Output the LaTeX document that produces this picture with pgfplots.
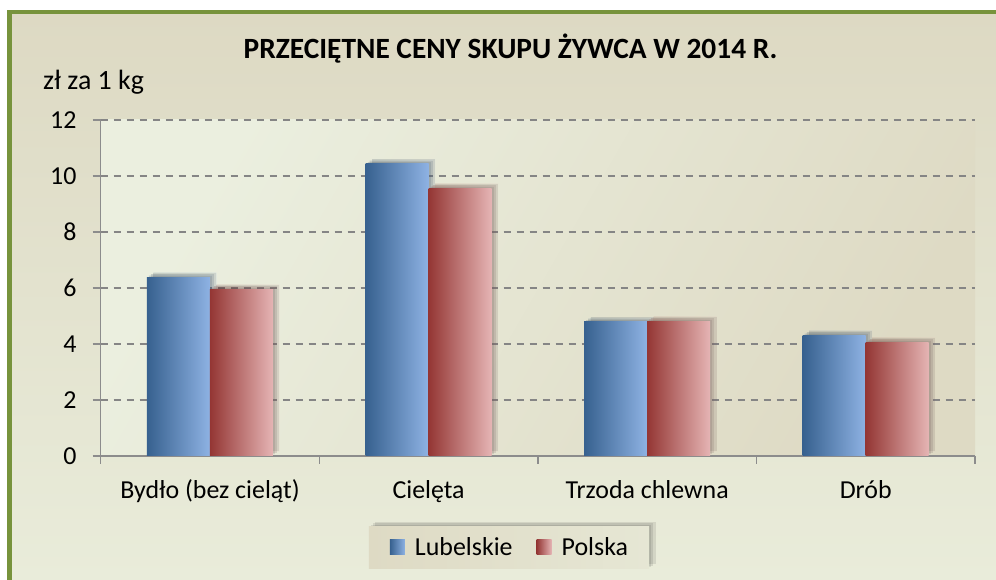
\documentclass[border=0pt]{standalone}
\usepackage{fontspec}
\setmainfont{Carlito}
\usepackage{pgfplots}
\pgfplotsset{compat=1.18}
\definecolor{bgtop}{HTML}{DDD9C3}
\definecolor{bgbot}{HTML}{E9ECDA}
\definecolor{patop}{HTML}{EBEFDF}
\definecolor{pabot}{HTML}{DEDAC4}
\definecolor{bordergreen}{HTML}{77933C}
\definecolor{bluedark}{HTML}{37618F}
\definecolor{bluelight}{HTML}{8EB2E3}
\definecolor{reddark}{HTML}{943634}
\definecolor{redlight}{HTML}{E5B4B4}
\definecolor{axgray}{HTML}{8C8C8C}
\definecolor{gridgray}{HTML}{858585}
\pgfdeclarehorizontalshading{bluesh}{100bp}{color(0bp)=(bluedark); color(25bp)=(bluedark); color(75bp)=(bluelight); color(100bp)=(bluelight)}
\pgfdeclarehorizontalshading{redsh}{100bp}{color(0bp)=(reddark); color(25bp)=(reddark); color(75bp)=(redlight); color(100bp)=(redlight)}
\tikzset{softshadow/.style={
  preaction={fill=black,opacity=0.09,transform canvas={xshift=2bp,yshift=1.5bp}},
  preaction={fill=black,opacity=0.09,transform canvas={xshift=4bp,yshift=3bp}},
  preaction={fill=black,opacity=0.09,transform canvas={xshift=6.5bp,yshift=4.5bp}}}}
\pgfplotsset{
  lub/.style={ybar, bar shift=-31.5bp, draw=none, left color=bluedark, right color=bluelight, softshadow, forget plot},
  pol/.style={ybar, bar shift=31.5bp, draw=none, left color=reddark, right color=redlight, softshadow, forget plot},
}
\begin{document}
\begin{tikzpicture}[x=1bp,y=1bp]
\useasboundingbox (0,0) rectangle (996,580);
\fill[white] (0,0) rectangle (996,580);
\shade[top color=bgtop, bottom color=bgbot] (7,0) rectangle (996,568);
\draw[bordergreen, line width=4.5bp] (9.5,0) -- (9.5,568) -- (996,568);
\node[anchor=base, font=\bfseries\fontsize{29.5}{34}\selectfont] at (510.5,521) {PRZECIĘTNE CENY SKUPU ŻYWCA W 2014 R.};
\node[anchor=base west, inner sep=0pt, font=\fontsize{28}{32}\selectfont] at (43,490) {zł za 1 kg};
\begin{axis}[
  at={(100.7bp,124bp)}, anchor=south west, scale only axis,
  width=874.3bp, height=336bp,
  xmin=-0.5, xmax=3.5, ymin=0, ymax=12,
  bar width=63bp,
  axis lines*=left,
  axis line style={axgray, line width=1.5bp},
  ytick={0,2,...,12},
  xtick={-0.5,0.5,1.5,2.5,3.5}, xticklabels={},
  extra x ticks={0,1,2,3},
  extra x tick labels={Bydło (bez cieląt),Cielęta,Trzoda chlewna,Drób},
  extra x tick style={major tick length=0pt, xticklabel style={anchor=base, yshift=-43bp}},
  tick align=outside, major tick length=8bp,
  tick style={axgray, line width=1.5bp},
  ymajorgrids, grid style={gridgray, dash pattern=on 7bp off 6bp, line width=1.8bp},
  tick label style={font=\fontsize{26}{30}\selectfont, text=black},
  /pgf/number format/assume math mode=true,
  yticklabel style={inner sep=0pt, xshift=-16bp},
  axis background/.style={shade, top color=patop, bottom color=pabot, shading angle=60},
  legend columns=2,
  legend style={at={(0.467,-0.272)}, anchor=center, draw=none,
    left color=pabot, right color=patop!60!pabot, softshadow,
    inner xsep=21bp, inner ysep=11.5bp, font=\fontsize{26}{30}\selectfont,
    nodes={inner sep=0pt},
    /tikz/every odd column/.append style={column sep=10bp},
    /tikz/every even column/.append style={column sep=24bp}},
  legend cell align=left,
]
% Lubelskie
\addplot[lub] coordinates {(0,6.39)};
\addplot[lub] coordinates {(1,10.43)};
\addplot[lub] coordinates {(2,4.79)};
\addplot[lub] coordinates {(3,4.32)};
% Polska
\addplot[pol] coordinates {(0,5.96)};
\addplot[pol] coordinates {(1,9.57)};
\addplot[pol] coordinates {(2,4.82)};
\addplot[pol] coordinates {(3,4.07)};
\addlegendimage{legend image code/.code={\pgfpathrectangle{\pgfpoint{0bp}{-7.5bp}}{\pgfpoint{15bp}{15bp}}\pgfshadepath{bluesh}{0}\pgfusepath{discard}}}
\addlegendentry{Lubelskie}
\addlegendimage{legend image code/.code={\pgfpathrectangle{\pgfpoint{0bp}{-7.5bp}}{\pgfpoint{15bp}{15bp}}\pgfshadepath{redsh}{0}\pgfusepath{discard}}}
\addlegendentry{Polska}
\end{axis}
\end{tikzpicture}
\end{document}
